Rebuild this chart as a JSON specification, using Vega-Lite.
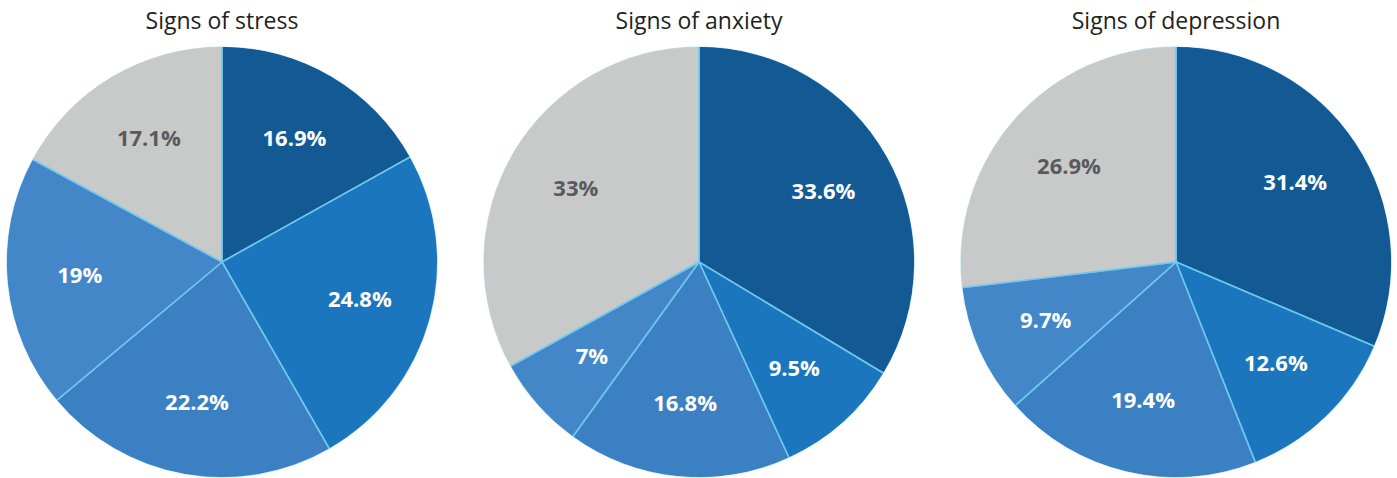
{
  "$schema": "https://vega.github.io/schema/vega-lite/v6.json",
  "padding": {"top": 11, "left": 0, "right": 0, "bottom": 0},
  "background": "white",
  "datasets": {
    "pies": [
      {"chart": "Signs of stress", "cat": "A", "order": 1, "value": 16.9, "label": "16.9%"},
      {"chart": "Signs of stress", "cat": "B", "order": 2, "value": 24.8, "label": "24.8%"},
      {"chart": "Signs of stress", "cat": "C", "order": 3, "value": 22.2, "label": "22.2%"},
      {"chart": "Signs of stress", "cat": "D", "order": 4, "value": 19, "label": "19%"},
      {"chart": "Signs of stress", "cat": "E", "order": 5, "value": 17.1, "label": "17.1%"},
      {"chart": "Signs of anxiety", "cat": "A", "order": 1, "value": 33.6, "label": "33.6%"},
      {"chart": "Signs of anxiety", "cat": "B", "order": 2, "value": 9.5, "label": "9.5%"},
      {"chart": "Signs of anxiety", "cat": "C", "order": 3, "value": 16.8, "label": "16.8%"},
      {"chart": "Signs of anxiety", "cat": "D", "order": 4, "value": 7, "label": "7%"},
      {"chart": "Signs of anxiety", "cat": "E", "order": 5, "value": 33, "label": "33%"},
      {"chart": "Signs of depression", "cat": "A", "order": 1, "value": 31.4, "label": "31.4%"},
      {"chart": "Signs of depression", "cat": "B", "order": 2, "value": 12.6, "label": "12.6%"},
      {"chart": "Signs of depression", "cat": "C", "order": 3, "value": 19.4, "label": "19.4%"},
      {"chart": "Signs of depression", "cat": "D", "order": 4, "value": 9.7, "label": "9.7%"},
      {"chart": "Signs of depression", "cat": "E", "order": 5, "value": 26.9, "label": "26.9%"}
    ]
  },
  "spacing": 33,
  "hconcat": [
    {
      "title": "Signs of stress",
      "width": 444, "height": 446,
      "data": {"name": "pies"},
      "transform": [{"filter": "datum.chart === 'Signs of stress'"}],
      "encoding": {
        "theta": {"field": "value", "type": "quantitative", "stack": true},
        "order": {"field": "order", "type": "quantitative"}
      },
      "layer": [
        {"mark": {"type": "arc", "radius": 216, "stroke": "#6ec8f0", "strokeWidth": 1.6},
         "encoding": {"color": {"field": "cat", "type": "nominal", "legend": null,
           "scale": {"domain": ["A", "B", "C", "D", "E"], "range": ["#135a94", "#1c76bd", "#3a80c3", "#4387c9", "#c8c9c9"]}}}},
        {"mark": {"type": "arc", "radius2": 215.6, "radius": 221, "fill": "white", "stroke": "white", "strokeWidth": 0.5}},
        {"mark": {"type": "text", "radius": 143, "font": "Open Sans", "fontSize": 22, "fontWeight": "bold"},
         "encoding": {"text": {"field": "label"},
           "color": {"condition": {"test": "datum.cat === 'E'", "value": "#595a5c"}, "value": "white"}}}
      ]
    },
    {
      "title": "Signs of anxiety",
      "width": 444, "height": 446,
      "data": {"name": "pies"},
      "transform": [{"filter": "datum.chart === 'Signs of anxiety'"}],
      "encoding": {
        "theta": {"field": "value", "type": "quantitative", "stack": true},
        "order": {"field": "order", "type": "quantitative"}
      },
      "layer": [
        {"mark": {"type": "arc", "radius": 216, "stroke": "#6ec8f0", "strokeWidth": 1.6},
         "encoding": {"color": {"field": "cat", "type": "nominal", "legend": null,
           "scale": {"domain": ["A", "B", "C", "D", "E"], "range": ["#135a94", "#1c76bd", "#3a80c3", "#4387c9", "#c8c9c9"]}}}},
        {"mark": {"type": "arc", "radius2": 215.6, "radius": 221, "fill": "white", "stroke": "white", "strokeWidth": 0.5}},
        {"mark": {"type": "text", "radius": 143, "font": "Open Sans", "fontSize": 22, "fontWeight": "bold"},
         "encoding": {"text": {"field": "label"},
           "color": {"condition": {"test": "datum.cat === 'E'", "value": "#595a5c"}, "value": "white"}}}
      ]
    },
    {
      "title": "Signs of depression",
      "width": 444, "height": 446,
      "data": {"name": "pies"},
      "transform": [{"filter": "datum.chart === 'Signs of depression'"}],
      "encoding": {
        "theta": {"field": "value", "type": "quantitative", "stack": true},
        "order": {"field": "order", "type": "quantitative"}
      },
      "layer": [
        {"mark": {"type": "arc", "radius": 216, "stroke": "#6ec8f0", "strokeWidth": 1.6},
         "encoding": {"color": {"field": "cat", "type": "nominal", "legend": null,
           "scale": {"domain": ["A", "B", "C", "D", "E"], "range": ["#135a94", "#1c76bd", "#3a80c3", "#4387c9", "#c8c9c9"]}}}},
        {"mark": {"type": "arc", "radius2": 215.6, "radius": 221, "fill": "white", "stroke": "white", "strokeWidth": 0.5}},
        {"mark": {"type": "text", "radius": 143, "font": "Open Sans", "fontSize": 22, "fontWeight": "bold"},
         "encoding": {"text": {"field": "label"},
           "color": {"condition": {"test": "datum.cat === 'E'", "value": "#595a5c"}, "value": "white"}}}
      ]
    }
  ],
  "config": {
    "view": {"stroke": null},
    "title": {"font": "Open Sans", "fontSize": 23, "fontWeight": "normal", "color": "#231f20", "offset": 5}
  }
}
